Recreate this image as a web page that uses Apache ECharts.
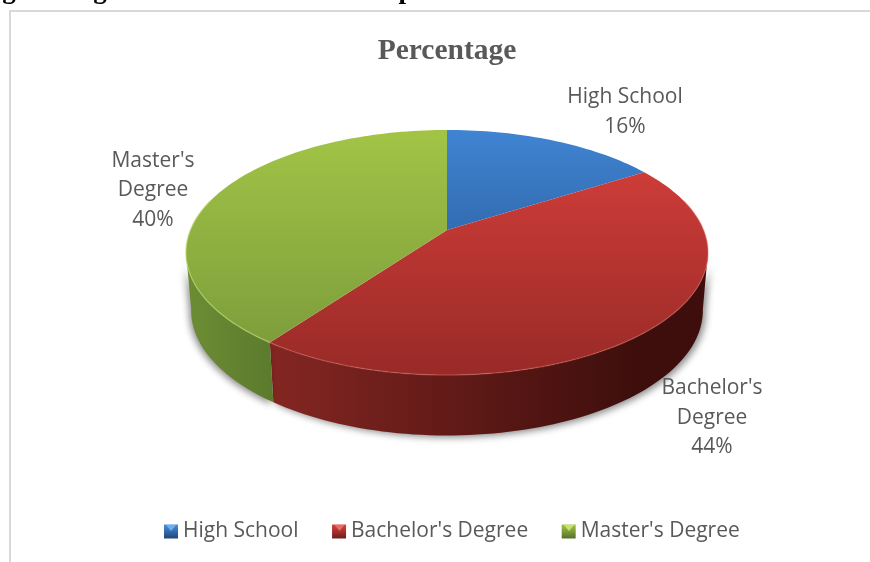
<!DOCTYPE html>
<html><head><meta charset="utf-8">
<style>html,body{margin:0;padding:0;background:#fff}#c{width:870px;height:562px}</style>
<script src="https://cdn.jsdelivr.net/npm/echarts@6/dist/echarts.min.js"></script>
</head><body><div id="c"></div>
<script>
const categories = ["High School", "Bachelor's Degree", "Master's Degree"];
const percentages = [16, 44, 40];
const labelLines = [["High School"], ["Bachelor's", "Degree"], ["Master's", "Degree"]];
const titleText = "Percentage";

// Layout only
const labelAnchors = [[625, 112], [712, 418], [153, 190.5]];
const topDisc = {cx: 447, cy: 230, a: 256.6, b: 118.4};
const baseDisc = {cx: 447, cy: 287.5, a: 251.5, b: 120.8};
const persp = 0.1837;
const LG = echarts.graphic.LinearGradient;
const topFill = [
  ['#4084d2', '#1f4a82'],
  ['#d8403c', '#982a27'],
  ['#a2c446', '#78983a']
];
const sideFill = [
  ['#2a5488', '#2a5488'],
  ['#842622', '#3d0e0c'],
  ['#6c8c34', '#5c7a2d']
];
const sideSpan = [[447, 650], [272, 640], [190, 275]];
const rimColor = ['#7aa8e0', '#e0706a', '#bcd870'];
const rimAlpha = [0, 0.4, 0.6];
const legendFill = [['#4a8fdc', '#1f4678'], ['#d8433f', '#6e1d1b'], ['#a4c648', '#55702a']];

function project(d, deg) {
  const t = deg * Math.PI / 180, s = Math.sin(t), c = Math.cos(t), den = 1 + persp * c;
  return [d.cx + d.a * s / den, d.cy - d.b * c / den];
}
function arc(d, from, to) {
  const pts = [], n = Math.max(2, Math.ceil((to - from) / 1.5));
  for (let i = 0; i <= n; i++) pts.push(project(d, from + (to - from) * i / n));
  return pts;
}
const total = percentages.reduce((a, b) => a + b, 0);

function sliceRenderer(idx) {
  return function (params, api) {
    const before = percentages.slice(0, idx).reduce((a, b) => a + b, 0);
    const start = before / total * 360;
    const end = start + api.value(0) / total * 360;
    const topArc = arc(topDisc, start, end);
    const kids = [];
    const sideFrom = Math.max(start, 100), sideTo = Math.min(end, 260);
    if (sideTo > sideFrom) {
      kids.push({
        type: 'polygon', z2: 1, silent: true,
        shape: {points: arc(topDisc, sideFrom, sideTo).concat(arc(baseDisc, sideFrom, sideTo).reverse())},
        style: {
          fill: new LG(sideSpan[idx][0], 0, sideSpan[idx][1], 0,
            [{offset: 0, color: sideFill[idx][0]}, {offset: 1, color: sideFill[idx][1]}], true),
          shadowBlur: 7, shadowColor: 'rgba(0,0,0,0.45)', shadowOffsetX: idx === 1 ? 3 : -2, shadowOffsetY: 2
        }
      });
    }
    kids.push({
      type: 'polygon', z2: 2, silent: true,
      shape: {points: [[topDisc.cx, topDisc.cy]].concat(topArc)},
      style: {
        fill: new LG(0, 130, 0, 375,
          [{offset: 0, color: topFill[idx][0]}, {offset: 1, color: topFill[idx][1]}], true)
      }
    });
    const frontFrom = Math.max(start, 75), frontTo = Math.min(end, 285);
    if (frontTo > frontFrom && rimAlpha[idx] > 0) {
      kids.push({
        type: 'polyline', z2: 3, silent: true,
        shape: {points: arc(topDisc, frontFrom, frontTo)},
        style: {fill: null, stroke: rimColor[idx], lineWidth: 1.4, opacity: rimAlpha[idx]}
      });
    }
    labelLines[idx].concat([api.value(0) + '%']).forEach((line, i, all) => {
      kids.push({
        type: 'text', z2: 4, silent: true,
        style: {
          x: labelAnchors[idx][0], y: labelAnchors[idx][1] + (i - (all.length - 1) / 2) * 29.5,
          text: line, fill: '#595959', align: 'center', verticalAlign: 'middle',
          font: '21px "Open Sans"'
        }
      });
    });
    return {type: 'group', children: kids};
  };
}

const chart = echarts.init(document.getElementById('c'), null, {renderer: 'canvas'});
const bevel = [164, 332.5, 562].map((x, i) => ({
  type: 'polygon', z: 20, silent: true,
  shape: {points: [[x + 2, 525], [x + 12, 525], [x + 7, 531]]},
  style: {fill: ['#6db0f0', '#ec6a64', '#c8e468'][i]}
}));
chart.setOption({
  animation: false,
  backgroundColor: '#ffffff',
  title: {
    text: titleText, left: 442, top: 31, textAlign: 'center',
    textStyle: {fontFamily: '"Liberation Serif"', fontWeight: 'bold', fontSize: 29.5, color: '#595959'}
  },
  legend: {
    left: 164, top: 521, padding: 0, itemWidth: 14, itemHeight: 14, itemGap: 33.5, icon: 'rect',
    selectedMode: false,
    textStyle: {fontFamily: '"Open Sans"', fontSize: 21, color: '#595959'},
    data: categories.map((name, i) => ({
      name,
      itemStyle: {color: new LG(0, 0, 0, 1, [{offset: 0, color: legendFill[i][0]}, {offset: 1, color: legendFill[i][1]}])}
    }))
  },
  series: categories.map((name, i) => ({
    type: 'custom', name, coordinateSystem: 'none',
    data: [[percentages[i]]], renderItem: sliceRenderer(i), silent: true, clip: false
  })),
  graphic: [
    {type: 'rect', silent: true, shape: {x: 9, y: 10, width: 861, height: 2}, style: {fill: '#d9d9d9'}},
    {type: 'rect', silent: true, shape: {x: 9, y: 10, width: 2, height: 552}, style: {fill: '#d9d9d9'}},
    {type: 'text', silent: true, style: {x: 9, y: 5, text: 'g', align: 'center', verticalAlign: 'bottom', fill: '#000', font: 'bold 27px "Liberation Serif"'}},
    {type: 'text', silent: true, style: {x: 100, y: 5, text: 'g', align: 'center', verticalAlign: 'bottom', fill: '#000', font: 'bold 27px "Liberation Serif"'}},
    {type: 'text', silent: true, style: {x: 406, y: 5, text: 'p', align: 'center', verticalAlign: 'bottom', fill: '#000', font: 'bold 27px "Liberation Serif"'}}
  ].concat(bevel.map(b => { b.shape.points = b.shape.points.map(p => [p[0], p[1]]); return b; }))
});
</script></body></html>
